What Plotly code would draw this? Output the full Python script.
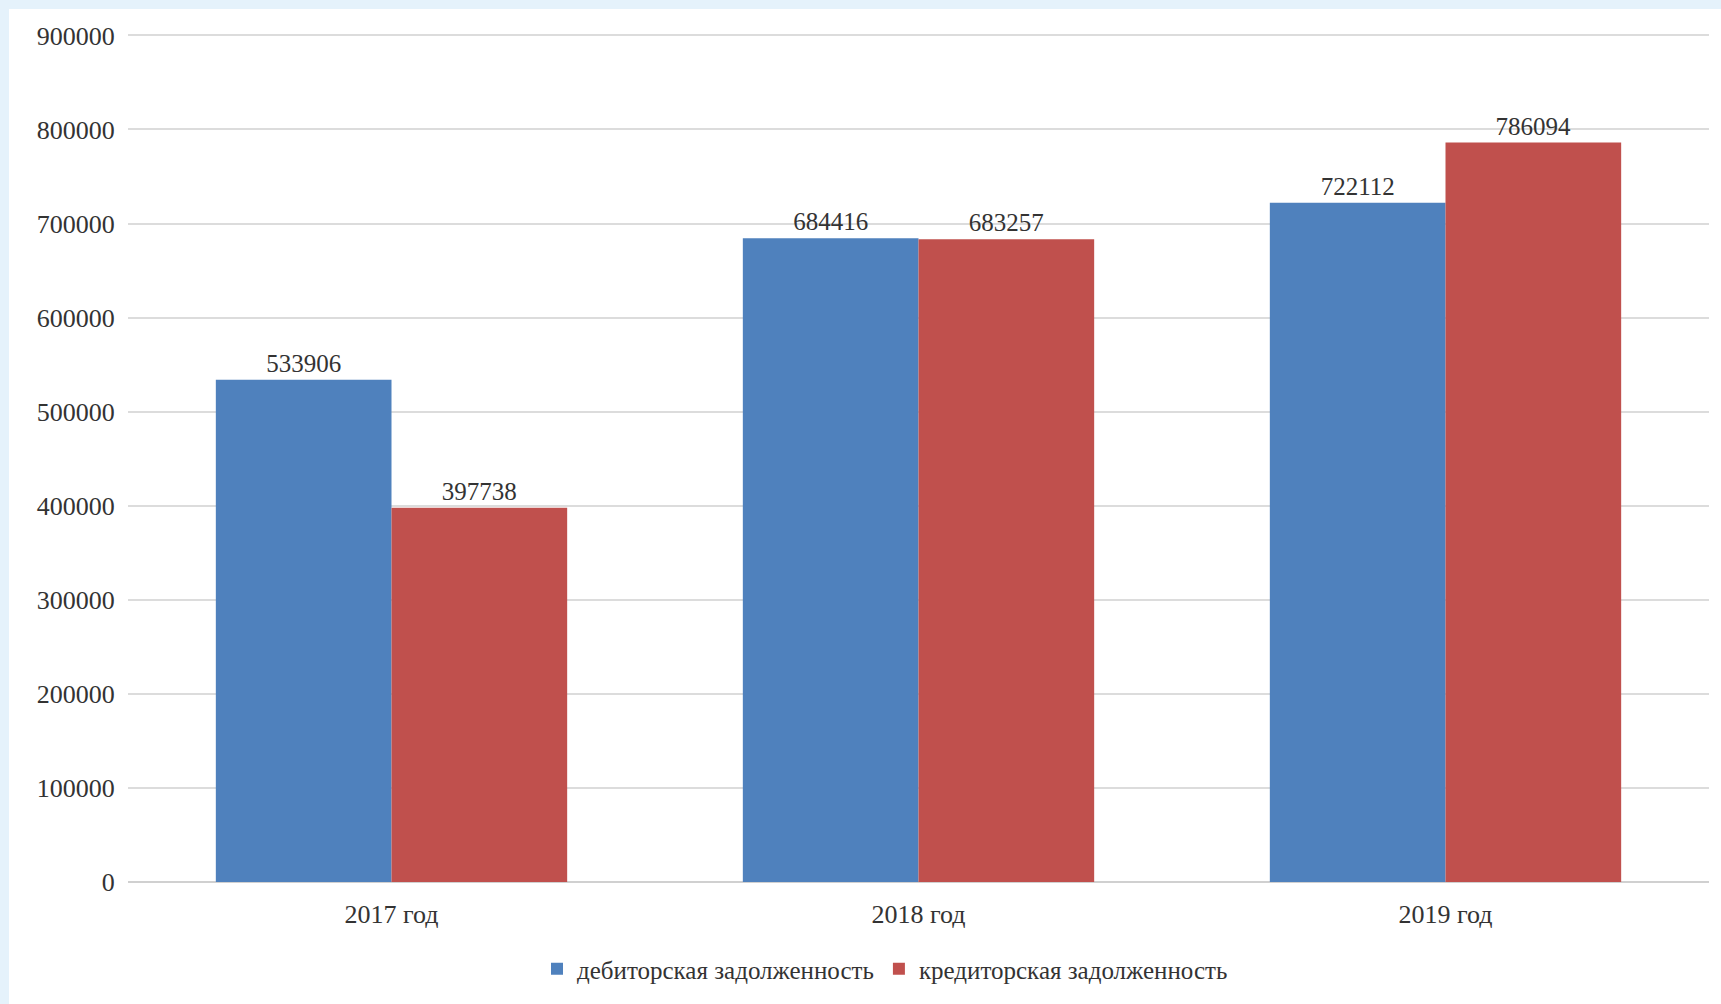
import plotly.graph_objects as go

categories = ["2017 год", "2018 год", "2019 год"]
debit = [533906, 684416, 722112]
credit = [397738, 683257, 786094]
series_names = ["дебиторская задолженность", "кредиторская задолженность"]
y_ticks = [0, 100000, 200000, 300000, 400000, 500000, 600000, 700000, 800000, 900000]

W, H = 1721, 1004
L, R, T, B = 128, 12, 34, 122
pw = W - L - R
ph = H - T - B

font_family = "Liberation Serif, Times New Roman, serif"
text_col = "#333333"
fs = 25

fig = go.Figure()
fig.add_trace(go.Bar(
    x=categories, y=debit, name=series_names[0],
    marker=dict(color="#4f81bd", line=dict(width=0)),
    text=[str(v) for v in debit], textposition="outside",
    textfont=dict(family=font_family, size=fs, color=text_col),
    cliponaxis=False,
))
fig.add_trace(go.Bar(
    x=categories, y=credit, name=series_names[1],
    marker=dict(color="#c0504d", line=dict(width=0)),
    text=[str(v) for v in credit], textposition="outside",
    textfont=dict(family=font_family, size=fs, color=text_col),
    cliponaxis=False,
))

# light blue frame strips (top and left)
blue = "#e5f2fb"
fig.add_shape(type="rect", xref="paper", yref="paper",
              x0=-L / pw, x1=(9 - L) / pw, y0=-B / ph, y1=(H - B) / ph,
              fillcolor=blue, line=dict(width=0), layer="below")
fig.add_shape(type="rect", xref="paper", yref="paper",
              x0=-L / pw, x1=(W - L) / pw, y0=(H - B - 9) / ph, y1=(H - B) / ph,
              fillcolor=blue, line=dict(width=0), layer="below")

fig.update_layout(
    width=W, height=H,
    margin=dict(l=L, r=R, t=T, b=B, pad=0),
    paper_bgcolor="white", plot_bgcolor="white",
    barmode="group", bargap=1/3, bargroupgap=0,
    font=dict(family=font_family, size=fs, color=text_col),
    showlegend=True,
    legend=dict(orientation="h", xanchor="center", yanchor="middle",
                x=(885 - L) / pw, y=-(969 - (H - B)) / ph,
                font=dict(family=font_family, size=fs, color=text_col),
                itemwidth=30, tracegroupgap=0),
    xaxis=dict(showgrid=False, showline=False, ticks="outside", ticklen=9,
               tickcolor="rgba(0,0,0,0)",
               tickfont=dict(family=font_family, size=26, color=text_col)),
    yaxis=dict(range=[0, 901500], tickvals=y_ticks, ticktext=[str(v) for v in y_ticks],
               showgrid=True, gridcolor="#dcdcdc", gridwidth=2,
               zeroline=True, zerolinecolor="#d0d0d0", zerolinewidth=2,
               showline=False, ticks="outside", ticklen=7, tickcolor="rgba(0,0,0,0)",
               tickfont=dict(family=font_family, size=26, color=text_col)),
)

fig.write_html("out.html")
